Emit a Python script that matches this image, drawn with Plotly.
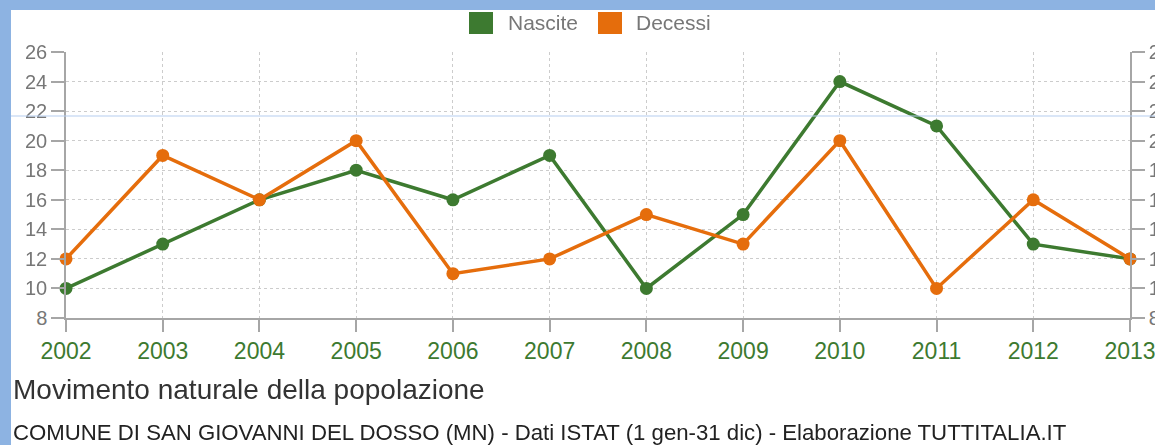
import plotly.graph_objects as go

years = [2002, 2003, 2004, 2005, 2006, 2007, 2008, 2009, 2010, 2011, 2012, 2013]
nascite = [10, 13, 16, 18, 16, 19, 10, 15, 24, 21, 13, 12]
decessi = [12, 19, 16, 20, 11, 12, 15, 13, 20, 10, 16, 12]
series_names = ["Nascite", "Decessi"]
y_ticks = list(range(8, 27, 2))

GREEN = "#3d7a30"
ORANGE = "#e56d0c"
FONT = "Liberation Sans, Arial, sans-serif"

W, H = 1155, 445
L, R, T, B = 66, 25, 52, 127
PW, PH = W - L - R, H - T - B

def px(x):
    return (x - L) / PW

def py(y):
    return (H - B - y) / PH

fig = go.Figure()
fig.add_trace(go.Scatter(x=years, y=nascite, name=series_names[0], mode="lines+markers",
                         line=dict(color=GREEN, width=3.5), marker=dict(color=GREEN, size=13),
                         cliponaxis=False, showlegend=False))
fig.add_trace(go.Scatter(x=years, y=decessi, name=series_names[1], mode="lines+markers",
                         line=dict(color=ORANGE, width=3.5), marker=dict(color=ORANGE, size=13),
                         cliponaxis=False, showlegend=False))
# invisible trace to activate right axis
fig.add_trace(go.Scatter(x=years, y=nascite, yaxis="y2", mode="markers", opacity=0,
                         hoverinfo="skip", showlegend=False))

axis_common = dict(showline=True, linecolor="#a6a6a6", linewidth=1.5, ticks="outside",
                   tickcolor="#a6a6a6", tickwidth=1.5, zeroline=False, automargin=False,
                   ticklabeloverflow="allow")

fig.update_layout(
    width=W, height=H, autosize=False,
    margin=dict(l=L, r=R, t=T, b=B, autoexpand=False),
    paper_bgcolor="white", plot_bgcolor="white",
    font=dict(family=FONT),
    xaxis=dict(range=[years[0], years[-1]], tickvals=years, ticktext=[str(y) for y in years],
               ticklen=12, tickfont=dict(color=GREEN, size=23),
               showgrid=True, gridcolor="#cccccc", griddash="3px,3px", gridwidth=1, **axis_common),
    yaxis=dict(range=[8, 26], tickvals=y_ticks, ticklen=13, tickfont=dict(color="#777", size=20),
               showgrid=True, gridcolor="#cccccc", griddash="3px,3px", gridwidth=1, **axis_common),
    yaxis2=dict(range=[8, 26], tickvals=y_ticks, ticklen=13, tickfont=dict(color="#777", size=20),
                overlaying="y", side="right", showgrid=False, **axis_common),
    showlegend=False,
)

shapes = [
    dict(type="rect", xref="paper", yref="paper", x0=px(0), x1=px(11), y0=py(H), y1=py(0),
         fillcolor="#8db3e2", line=dict(width=0), layer="above"),
    dict(type="rect", xref="paper", yref="paper", x0=px(0), x1=px(W), y0=py(10), y1=py(0),
         fillcolor="#8db3e2", line=dict(width=0), layer="above"),
    dict(type="line", xref="paper", yref="paper", x0=px(11), x1=px(W), y0=py(116), y1=py(116),
         line=dict(color="#b5cdef", width=1), layer="above"),
    # legend swatches
    dict(type="rect", xref="paper", yref="paper", x0=px(469), x1=px(493), y0=py(34), y1=py(12),
         fillcolor=GREEN, line=dict(width=0)),
    dict(type="rect", xref="paper", yref="paper", x0=px(598), x1=px(622), y0=py(34), y1=py(12),
         fillcolor=ORANGE, line=dict(width=0)),
]
fig.update_layout(shapes=shapes)

annotations = [
    dict(text=series_names[0], x=px(506), y=py(23), xref="paper", yref="paper",
         xanchor="left", yanchor="middle", showarrow=False, font=dict(size=21, color="#777")),
    dict(text=series_names[1], x=px(634), y=py(23), xref="paper", yref="paper",
         xanchor="left", yanchor="middle", showarrow=False, font=dict(size=21, color="#777")),
    dict(text="Movimento naturale della popolazione", x=px(11), y=py(389), xref="paper", yref="paper",
         xanchor="left", yanchor="middle", showarrow=False, font=dict(size=28, color="#333")),
    dict(text="COMUNE DI SAN GIOVANNI DEL DOSSO (MN) - Dati ISTAT (1 gen-31 dic) - Elaborazione TUTTITALIA.IT",
         x=px(11), y=py(432), xref="paper", yref="paper",
         xanchor="left", yanchor="middle", showarrow=False, font=dict(size=22.2, color="#222")),
]
fig.update_layout(annotations=annotations)

post = ("document.body.style.margin='0';document.body.style.padding='0';"
        "document.body.style.overflow='hidden';document.documentElement.style.overflow='hidden';")
fig.write_html("out.html", config={"responsive": False, "displayModeBar": False}, post_script=post)
